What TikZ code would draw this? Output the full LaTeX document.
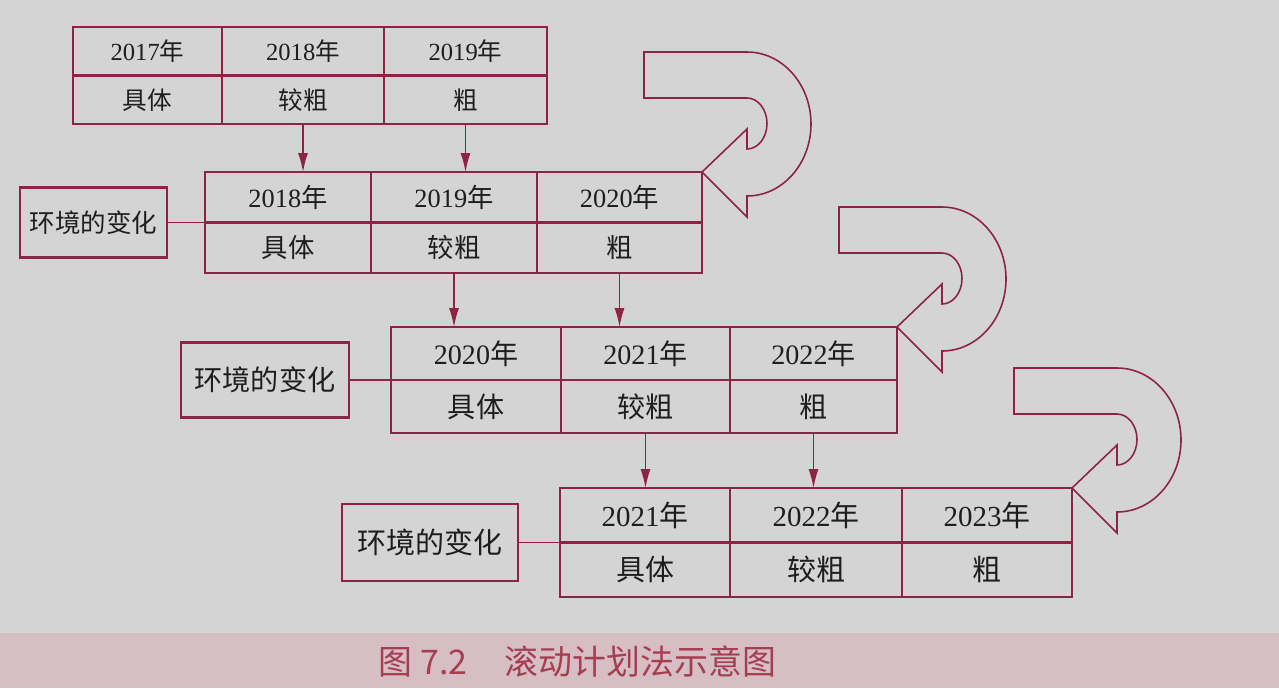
\documentclass[tikz,border=0pt]{standalone}
\usepackage{fontspec}
\setmainfont{Liberation Serif}
\newfontfamily\cjk{Noto Sans CJK SC}
\usetikzlibrary{positioning, arrows.meta}

\definecolor{plan}{RGB}{140,36,68}
\definecolor{paper}{RGB}{212,212,212}
\definecolor{band}{RGB}{214,190,196}
\definecolor{ink}{RGB}{30,30,30}
\definecolor{capred}{RGB}{165,62,82}

\newcommand{\yr}[1]{{\rmfamily #1}年}

\begin{document}
\begin{tikzpicture}
	% Paper and caption band
	\useasboundingbox (0,0) rectangle (25.58,-13.76);
	\fill[paper] (0,0) rectangle (25.58,-13.76);
	\fill[band] (0,-12.66) rectangle (25.58,-13.76);

	% Styles for cells, boxes and arrows
	\tikzset{cell/.style 2 args = {draw = plan, line width = 1.4pt, outer sep = 0pt, inner sep = 0pt, text = ink, minimum height = #1, font = \fontsize{#2}{#2}\selectfont\cjk}}
	\tikzset{envbox/.style 2 args = {draw = plan, line width = 1.4pt, outer sep = 0pt, text = ink, minimum height = #1, font = \fontsize{#2}{#2}\selectfont\cjk}}
	\tikzset{drop/.style = {draw = plan, line width = 0.75pt, -{Latex[length = 0.38cm, width = 0.2cm]}}}
	\tikzset{tie/.style = {draw = plan, line width = 0.75pt}}
	\tikzset{turn/.style = {draw = plan, line width = 0.9pt}}

	% First plan
	\node[cell = {0.97cm}{14}, minimum width = 2.98cm, anchor = north west] (t1a1) at (1.46,-0.54) {\yr{2017}};
	\node[cell = {0.97cm}{14}, minimum width = 3.24cm, right = 0pt of t1a1] (t1a2) {\yr{2018}};
	\node[cell = {0.97cm}{14}, minimum width = 3.26cm, right = 0pt of t1a2] (t1a3) {\yr{2019}};
	\node[cell = {0.97cm}{14}, minimum width = 2.98cm, below = 0pt of t1a1] (t1b1) {具体};
	\node[cell = {0.97cm}{14}, minimum width = 3.24cm, below = 0pt of t1a2] (t1b2) {较粗};
	\node[cell = {0.97cm}{14}, minimum width = 3.26cm, below = 0pt of t1a3] (t1b3) {粗};

	% Second plan
	\node[cell = {1.01cm}{15}, minimum width = 3.32cm, anchor = north west] (t2a1) at (4.10,-3.44) {\yr{2018}};
	\node[cell = {1.01cm}{15}, minimum width = 3.32cm, right = 0pt of t2a1] (t2a2) {\yr{2019}};
	\node[cell = {1.01cm}{15}, minimum width = 3.30cm, right = 0pt of t2a2] (t2a3) {\yr{2020}};
	\node[cell = {1.01cm}{15}, minimum width = 3.32cm, below = 0pt of t2a1] (t2b1) {具体};
	\node[cell = {1.01cm}{15}, minimum width = 3.32cm, below = 0pt of t2a2] (t2b2) {较粗};
	\node[cell = {1.01cm}{15}, minimum width = 3.30cm, below = 0pt of t2a3] (t2b3) {粗};
	\node[envbox = {1.40cm}{14.5}, minimum width = 2.94cm, left = 0.76cm of t2a1.south west] (env2) {环境的变化};

	% Third plan
	\node[cell = {1.06cm}{16}, minimum width = 3.40cm, anchor = north west] (t3a1) at (7.82,-6.54) {\yr{2020}};
	\node[cell = {1.06cm}{16}, minimum width = 3.38cm, right = 0pt of t3a1] (t3a2) {\yr{2021}};
	\node[cell = {1.06cm}{16}, minimum width = 3.34cm, right = 0pt of t3a2] (t3a3) {\yr{2022}};
	\node[cell = {1.06cm}{16}, minimum width = 3.40cm, below = 0pt of t3a1] (t3b1) {具体};
	\node[cell = {1.06cm}{16}, minimum width = 3.38cm, below = 0pt of t3a2] (t3b2) {较粗};
	\node[cell = {1.06cm}{16}, minimum width = 3.34cm, below = 0pt of t3a3] (t3b3) {粗};
	\node[envbox = {1.50cm}{16}, minimum width = 3.36cm, left = 0.84cm of t3a1.south west] (env3) {环境的变化};

	% Fourth plan
	\node[cell = {1.09cm}{16.5}, minimum width = 3.40cm, anchor = north west] (t4a1) at (11.20,-9.76) {\yr{2021}};
	\node[cell = {1.09cm}{16.5}, minimum width = 3.44cm, right = 0pt of t4a1] (t4a2) {\yr{2022}};
	\node[cell = {1.09cm}{16.5}, minimum width = 3.40cm, right = 0pt of t4a2] (t4a3) {\yr{2023}};
	\node[cell = {1.09cm}{16.5}, minimum width = 3.40cm, below = 0pt of t4a1] (t4b1) {具体};
	\node[cell = {1.09cm}{16.5}, minimum width = 3.44cm, below = 0pt of t4a2] (t4b2) {较粗};
	\node[cell = {1.09cm}{16.5}, minimum width = 3.40cm, below = 0pt of t4a3] (t4b3) {粗};
	\node[envbox = {1.54cm}{16.5}, minimum width = 3.52cm, left = 0.84cm of t4a1.south west] (env4) {环境的变化};

	% Draw the links from the boxes
	\draw[tie] (env2.east) -- (t2a1.south west);
	\draw[tie] (env3.east) -- (t3a1.south west);
	\draw[tie] (env4.east) -- (t4a1.south west);

	% Draw the arrows down to the next plan
	\draw[drop] (t1b2.south) -- (t1b2.south |- t2a1.north);
	\draw[drop] (t1b3.south) -- (t1b3.south |- t2a1.north);
	\draw[drop] (t2b2.south) -- (t2b2.south |- t3a1.north);
	\draw[drop] (t2b3.south) -- (t2b3.south |- t3a1.north);
	\draw[drop] (t3b2.south) -- (t3b2.south |- t4a1.north);
	\draw[drop] (t3b3.south) -- (t3b3.south |- t4a1.north);

	% Draw the rolling arrows
	\draw[turn, shift = {(t2a3.north east)}] (0,0) -- (0.90,0.86) -- (0.90,0.46) arc[start angle = -90, end angle = 90, x radius = 0.40, y radius = 0.51] -- (-1.16,1.48) -- (-1.16,2.40) -- (0.90,2.40) arc[start angle = 90, end angle = -90, x radius = 1.28, y radius = 1.44] -- (0.90,-0.90) -- cycle;
	\draw[turn, shift = {(t3a3.north east)}] (0,0) -- (0.90,0.86) -- (0.90,0.46) arc[start angle = -90, end angle = 90, x radius = 0.40, y radius = 0.51] -- (-1.16,1.48) -- (-1.16,2.40) -- (0.90,2.40) arc[start angle = 90, end angle = -90, x radius = 1.28, y radius = 1.44] -- (0.90,-0.90) -- cycle;
	\draw[turn, shift = {(t4a3.north east)}] (0,0) -- (0.90,0.86) -- (0.90,0.46) arc[start angle = -90, end angle = 90, x radius = 0.40, y radius = 0.51] -- (-1.16,1.48) -- (-1.16,2.40) -- (0.90,2.40) arc[start angle = 90, end angle = -90, x radius = 1.28, y radius = 1.44] -- (0.90,-0.90) -- cycle;

	% Caption
	\node[text = capred, font = \fontsize{19.3}{19.3}\selectfont\cjk] (cap) at (11.55,-13.22) {图 7.2\hspace{1.1em}滚动计划法示意图};

\end{tikzpicture}
\end{document}
